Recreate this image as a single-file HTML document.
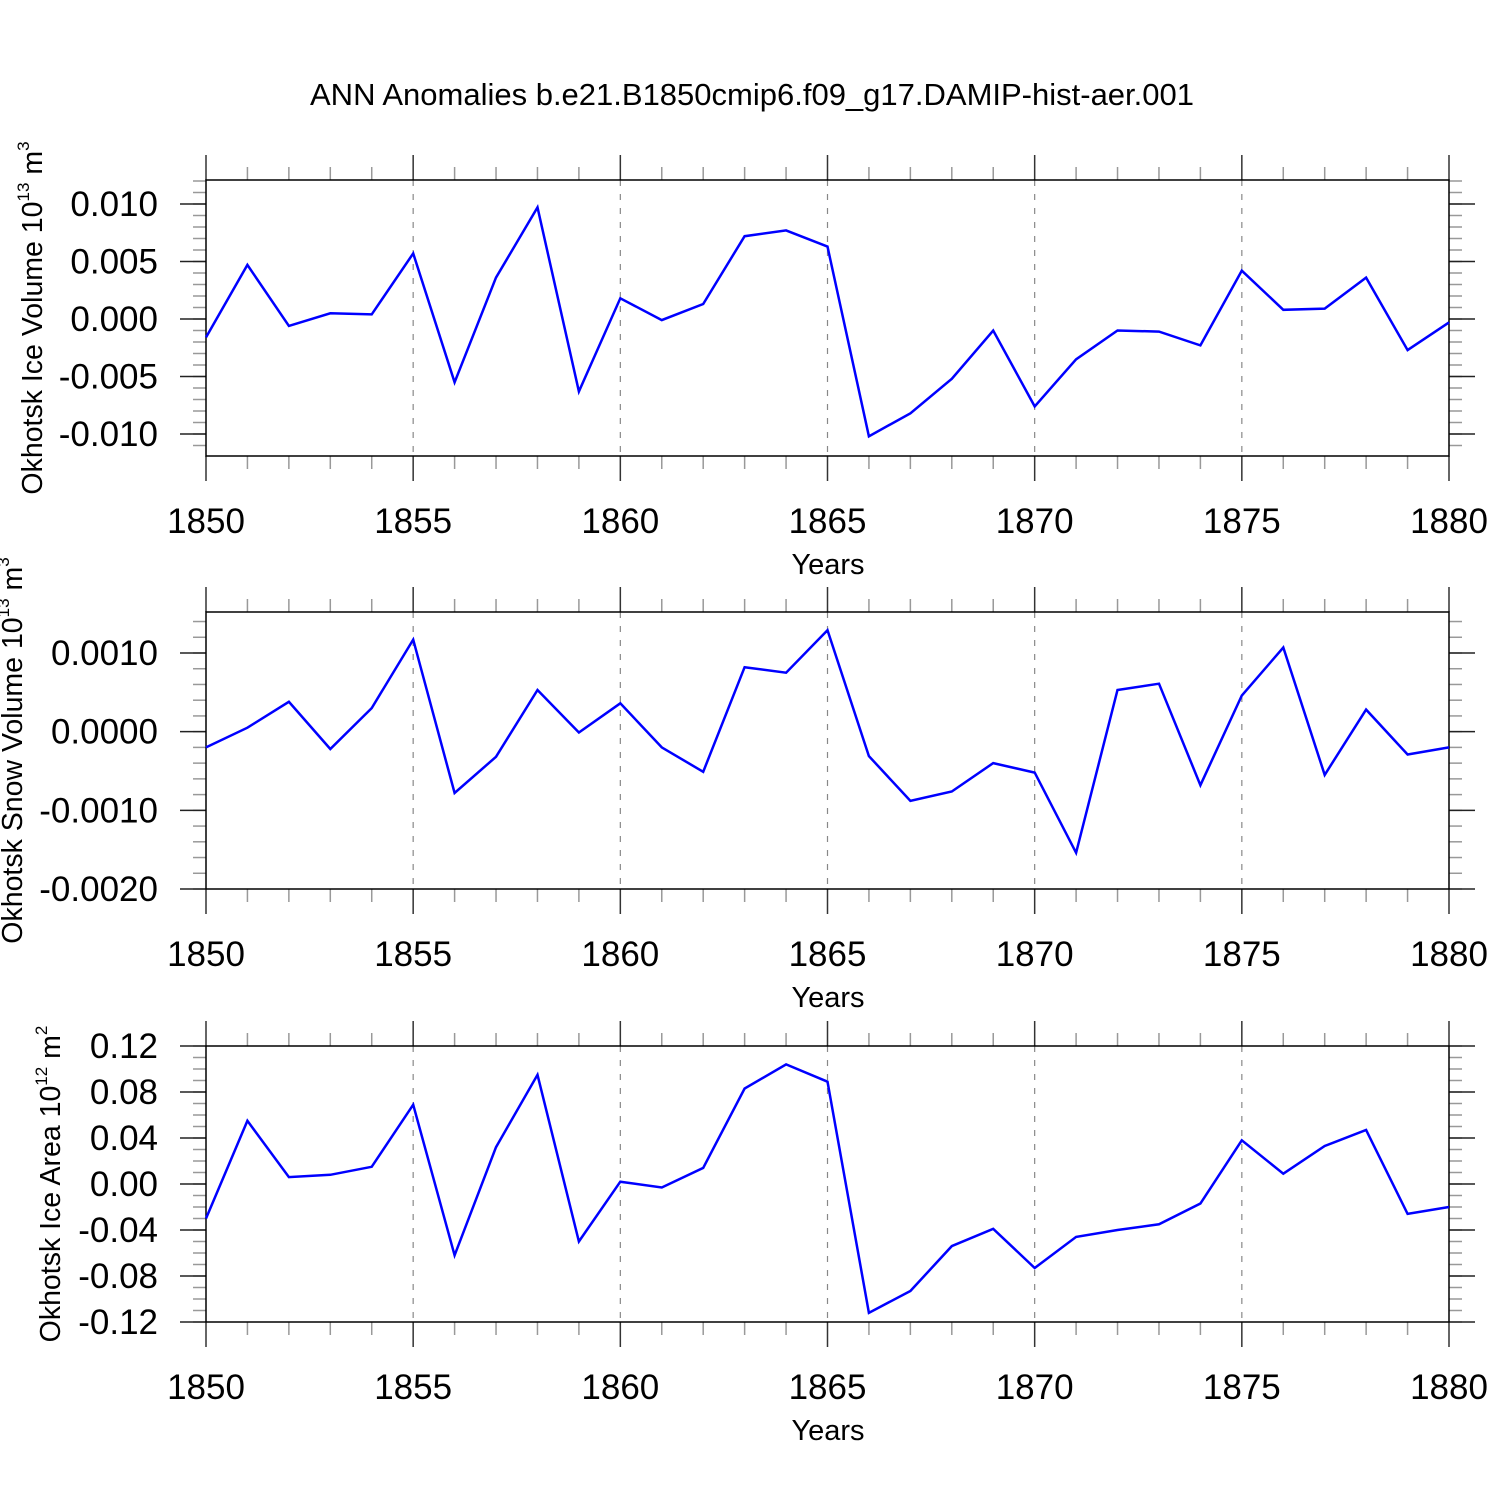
<!DOCTYPE html>
<html><head><meta charset="utf-8"><style>
html,body{margin:0;padding:0;background:#fff;}
svg{display:block;font-family:"Liberation Sans",sans-serif;}
</style></head><body>
<svg id="chart" width="1500" height="1500" viewBox="0 0 1500 1500">
<text x="752" y="105" font-size="31" text-anchor="middle">ANN Anomalies b.e21.B1850cmip6.f09_g17.DAMIP-hist-aer.001</text>
</svg>
<script>
const years = [];
for (let y = 1850; y <= 1880; y++) years.push(y);
const xTicks = [1850, 1855, 1860, 1865, 1870, 1875, 1880];
const iceVolume = [-0.0016,0.0047,-0.0006,0.0005,0.0004,0.0057,-0.0055,0.0036,0.0097,-0.0063,0.0018,-0.0001,0.0013,0.0072,0.0077,0.0063,-0.0102,-0.0082,-0.0052,-0.0010,-0.0076,-0.0035,-0.0010,-0.0011,-0.0023,0.0042,0.0008,0.0009,0.0036,-0.0027,-0.0003];
const snowVolume = [-0.0002,0.00005,0.00038,-0.00022,0.0003,0.00117,-0.00078,-0.00032,0.00053,-0.00001,0.00036,-0.0002,-0.00051,0.00082,0.00075,0.00129,-0.00031,-0.00088,-0.00076,-0.0004,-0.00052,-0.00154,0.00053,0.00061,-0.00068,0.00046,0.00107,-0.00055,0.00028,-0.00029,-0.0002];
const iceArea = [-0.030,0.055,0.006,0.008,0.015,0.069,-0.062,0.032,0.095,-0.050,0.002,-0.003,0.014,0.083,0.104,0.089,-0.112,-0.093,-0.054,-0.039,-0.073,-0.046,-0.040,-0.035,-0.017,0.038,0.009,0.033,0.047,-0.026,-0.020];
const iceVolTicks = [0.010,0.005,0.000,-0.005,-0.010];
const iceVolLabels = ["0.010","0.005","0.000","-0.005","-0.010"];
const snowTicks = [0.001,0,-0.001,-0.002];
const snowLabels = ["0.0010","0.0000","-0.0010","-0.0020"];
const areaTicks = [0.12,0.08,0.04,0,-0.04,-0.08,-0.12];
const areaLabels = ["0.12","0.08","0.04","0.00","-0.04","-0.08","-0.12"];

const NS = "http://www.w3.org/2000/svg";
const svg = document.getElementById('chart');
function mk(tag, attrs, parent) {
  const e = document.createElementNS(NS, tag);
  for (const k in attrs) e.setAttribute(k, attrs[k]);
  (parent || svg).appendChild(e);
  return e;
}
const X0 = 206, X1 = 1449;
function xs(yr) { return X0 + (yr - 1850) / 30 * (X1 - X0); }

function panel(cfg) {
  const g = mk('g', {});
  
  
  const ys = v => cfg.yA + (v - cfg.vA) / (cfg.vB - cfg.vA) * (cfg.yB - cfg.yA);
  xTicks.slice(1, -1).forEach(t => {
    const l = mk('line', {x1: xs(t), x2: xs(t), y1: cfg.top, y2: cfg.bot, stroke: '#888', 'stroke-width': 1.2, 'stroke-dasharray': '6,8'}, g);
    
    
  });
  years.forEach(yr => {
    const major = xTicks.includes(yr);
    const len = major ? 25 : 13;
    mk('line', {x1: xs(yr), x2: xs(yr), y1: cfg.top - len, y2: cfg.top, stroke: major ? '#333' : '#999', 'stroke-width': 1.5}, g);
    mk('line', {x1: xs(yr), x2: xs(yr), y1: cfg.bot, y2: cfg.bot + len, stroke: major ? '#333' : '#999', 'stroke-width': 1.5}, g);
  });
  xTicks.forEach(t => {
    const tx = mk('text', {x: xs(t), y: cfg.bot + 77, 'font-size': 35, 'text-anchor': 'middle'}, g);
    tx.textContent = t;
    
    
  });
  for (let v = cfg.minStart; v <= cfg.minEnd + 1e-12; v += cfg.minStep) {
    const y = ys(v);
    if (y < cfg.top - 0.5 || y > cfg.bot + 0.5) continue;
    mk('line', {x1: X0 - 13, x2: X0, y1: y, y2: y, stroke: '#999', 'stroke-width': 1.5}, g);
    mk('line', {x1: X1, x2: X1 + 13, y1: y, y2: y, stroke: '#999', 'stroke-width': 1.5}, g);
  }
  cfg.ticks.forEach((t, i) => {
    const y = ys(t);
    mk('line', {x1: X0 - 26, x2: X0, y1: y, y2: y, stroke: '#222', 'stroke-width': 1.5}, g);
    mk('line', {x1: X1, x2: X1 + 26, y1: y, y2: y, stroke: '#222', 'stroke-width': 1.5}, g);
    const tx = mk('text', {x: 158, y: y + 12, 'font-size': 35, 'text-anchor': 'end'}, g);
    tx.textContent = cfg.labels[i];
    
    
  });
  const box = mk('rect', {x: X0, y: cfg.top, width: X1 - X0, height: cfg.bot - cfg.top, fill: 'none', stroke: '#000', 'stroke-width': 1.5}, g);
  
  
  const pts = cfg.data.map((v, i) => xs(years[i]).toFixed(1) + ',' + ys(v).toFixed(1)).join(' ');
  const pl = mk('polyline', {points: pts, fill: 'none', stroke: '#0000ff', 'stroke-width': 2.5, 'stroke-linejoin': 'miter'}, g);
  
  
  const xl = mk('text', {x: 828, y: cfg.bot + 118, 'font-size': 29, 'text-anchor': 'middle'}, g);
  xl.textContent = 'Years';
  
  
  const yl = mk('text', {transform: 'translate(' + cfg.ylx + ',' + ((cfg.top + cfg.bot) / 2) + ') rotate(-90)', 'font-size': 28.5, 'text-anchor': 'middle'}, g);
  yl.innerHTML = cfg.ylabel + ' 10<tspan font-size="17" dy="-13">' + cfg.exp + '</tspan><tspan dy="13"> m</tspan><tspan font-size="17" dy="-13">' + cfg.unitExp + '</tspan>';
  
  
}

panel({name: 'ice-volume-panel', top: 180, bot: 456, yA: 204, vA: 0.01, yB: 434, vB: -0.01,
  ticks: iceVolTicks, labels: iceVolLabels, minStart: -0.013, minEnd: 0.013, minStep: 0.001,
  data: iceVolume, ylabel: 'Okhotsk Ice Volume', exp: '13', unitExp: '3', ylx: 42});
panel({name: 'snow-volume-panel', top: 612, bot: 889, yA: 653, vA: 0.001, yB: 889, vB: -0.002,
  ticks: snowTicks, labels: snowLabels, minStart: -0.002, minEnd: 0.0016, minStep: 0.0002,
  data: snowVolume, ylabel: 'Okhotsk Snow Volume', exp: '13', unitExp: '3', ylx: 22});
panel({name: 'ice-area-panel', top: 1046, bot: 1322, yA: 1046, vA: 0.12, yB: 1322, vB: -0.12,
  ticks: areaTicks, labels: areaLabels, minStart: -0.12, minEnd: 0.12, minStep: 0.01,
  data: iceArea, ylabel: 'Okhotsk Ice Area', exp: '12', unitExp: '2', ylx: 60});
</script>
</body></html>
